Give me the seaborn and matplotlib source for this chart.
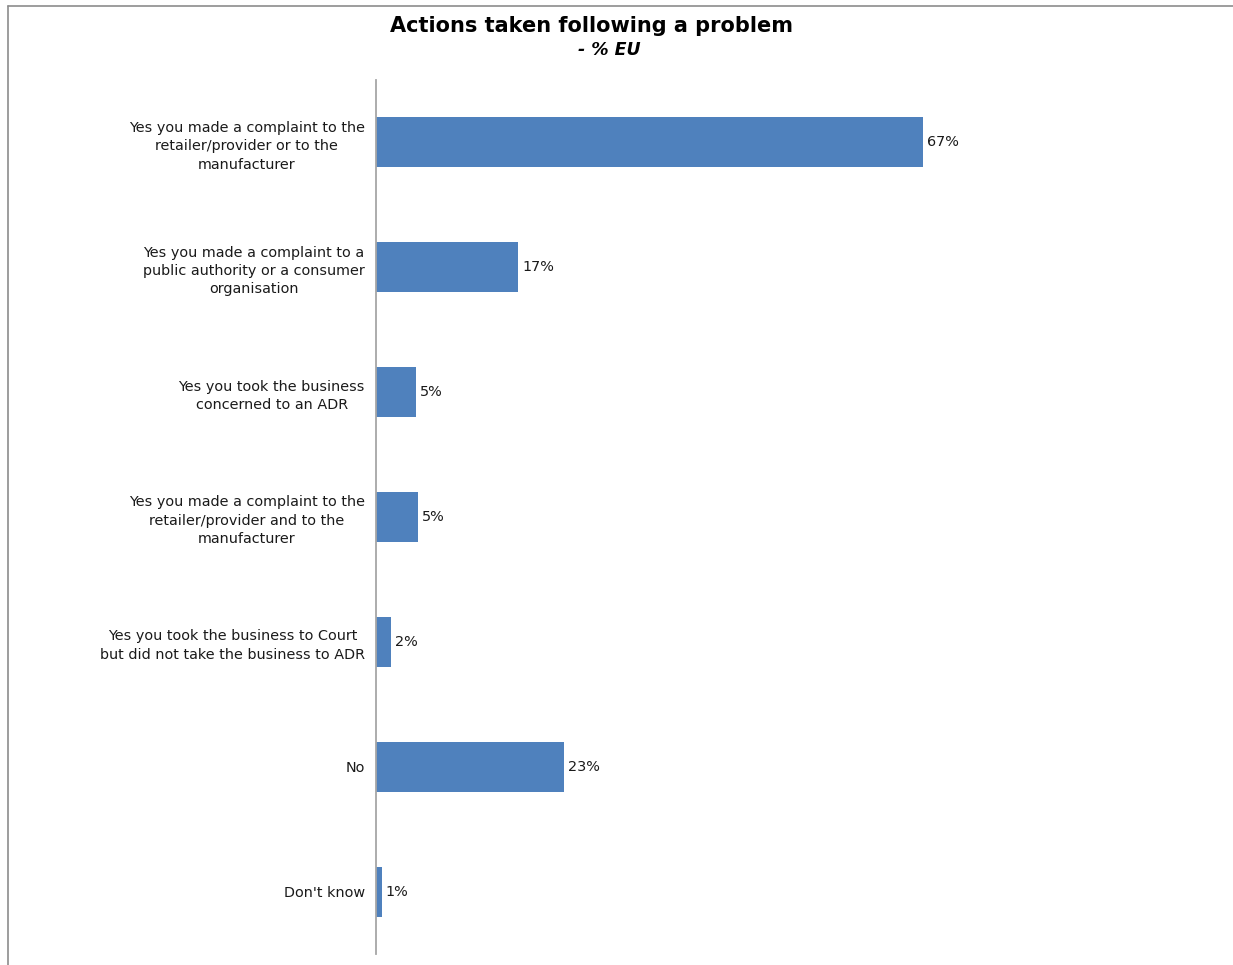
import pandas as pd
import seaborn as sns
import matplotlib.pyplot as plt
from matplotlib.lines import Line2D

# Values (bar lengths in %)
categories = [
    "Yes you made a complaint to the\nretailer/provider or to the\nmanufacturer",
    "Yes you made a complaint to a\npublic authority or a consumer\norganisation",
    "Yes you took the business\nconcerned to an ADR",
    "Yes you made a complaint to the\nretailer/provider and to the\nmanufacturer",
    "Yes you took the business to Court\nbut did not take the business to ADR",
    "No",
    "Don't know",
]
values = [67.0, 17.4, 4.9, 5.1, 1.8, 23.0, 0.7]
value_labels = ["67%", "17%", "5%", "5%", "2%", "23%", "1%"]

sns.set_theme(style="white")
plt.rcParams['font.family'] = ['DejaVu Sans']
plt.rcParams['text.color'] = 'black'

df = pd.DataFrame({"action": categories, "pct": values})

fig = plt.figure(figsize=(12.33, 9.65), dpi=100)
ax = fig.add_axes([376 / 1233, 11 / 965, 816 / 1233, 874 / 965])

sns.barplot(data=df, y="action", x="pct", orient="h", color="#4F81BD",
            saturation=1, width=0.4, linewidth=0, ax=ax)

ax.set_xlim(0, 100)
ax.set_xlabel("")
ax.set_ylabel("")
ax.set_xticks([])
ax.tick_params(axis="y", length=0, pad=8, labelsize=10.4, labelcolor="#1a1a1a")
for lbl in ax.get_yticklabels():
    lbl.set_multialignment("center")
    lbl.set_linespacing(1.4)

for side in ["top", "right", "bottom"]:
    ax.spines[side].set_visible(False)
ax.spines["left"].set_color("#A6A6A6")
ax.spines["left"].set_linewidth(1.3)

ax.bar_label(ax.containers[0], labels=value_labels, padding=3,
             fontsize=10.4, color="#1a1a1a")

# Title block
fig.text(591 / 1233, 1 - 26 / 965, "Actions taken following a problem",
         ha="center", va="center", fontsize=15, fontweight="bold", color="black")
fig.text(609 / 1233, 1 - 50 / 965, "- % EU", ha="center", va="center",
         fontsize=12.5, fontweight="bold", fontstyle="italic", color="black")

# Outer frame (left and top edges)
fig.add_artist(Line2D([8 / 1233, 8 / 1233], [0, 1 - 6 / 965],
                      transform=fig.transFigure, color="#8C8C8C", lw=1.2))
fig.add_artist(Line2D([8 / 1233, 1], [1 - 6 / 965, 1 - 6 / 965],
                      transform=fig.transFigure, color="#8C8C8C", lw=1.2))

fig.savefig("out.png", dpi=100)
plt.close()
